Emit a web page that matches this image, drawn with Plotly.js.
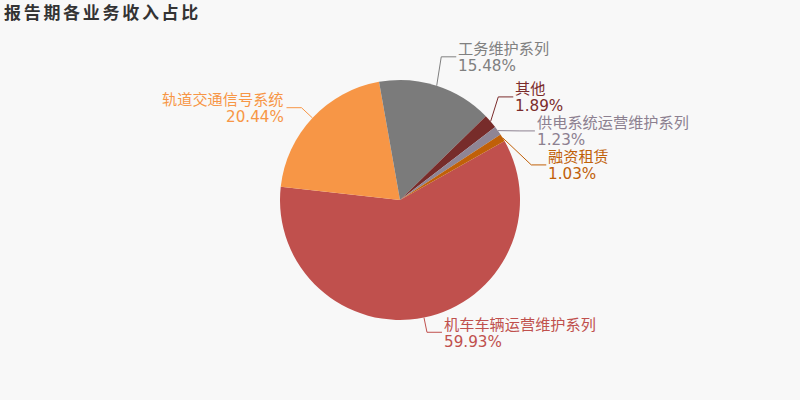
<!DOCTYPE html>
<html><head><meta charset="utf-8">
<script src="https://cdn.plot.ly/plotly-3.0.1.min.js"></script>
<style>
html,body{margin:0;padding:0;background:#f8f8f8;}
#chart{width:800px;height:400px;}
.gtitle{letter-spacing:2.7px;}
</style></head><body><div id="chart"></div>
<script>
// ---- data ----
const categories = ['机车车辆运营维护系列', '轨道交通信号系统', '工务维护系列', '其他', '供电系统运营维护系列', '融资租赁'];
const shares = [59.93, 20.44, 15.48, 1.89, 1.23, 1.03];
const titleText = '报告期各业务收入占比';

// ---- styles ----
const sliceColors = ['#c0504d', '#f79646', '#7b7b7b', '#772c2a', '#8f8595', '#c06008'];
const labelColors = ['#c0504d', '#f79646', '#808080', '#7b2c2c', '#8c8090', '#c06008'];
const FONT = 'DejaVu Sans, Noto Sans CJK SC, sans-serif';
const W = 800, H = 400, CX = 400, CY = 200, R = 120;
const ROT = 60.6, LEN1 = 15, LEN2 = 15, LABEL_H = 34, FS = 15.2;

const total = shares.reduce((a, b) => a + b, 0);
let acc = 0;
const items = shares.map((v, i) => {
  const a0 = ROT + acc / total * 360; acc += v;
  const a1 = ROT + acc / total * 360;
  const m = (a0 + a1) / 2 * Math.PI / 180;
  const s = Math.sin(m), c = Math.cos(m);
  return {
    i, dir: s >= 0 ? 1 : -1,
    ex: CX + R * s, ey: CY - R * c,
    bx: CX + (R + LEN1) * s, y: CY - (R + LEN1) * c, y0: CY - (R + LEN1) * c,
    semiTop: c > 0
  };
});

// label overlap avoidance per side
[1, -1].forEach(dir => {
  const list = items.filter(it => it.dir === dir).sort((a, b) => a.y - b.y);
  if (list.length < 2) return;
  let last = -Infinity, adjusted = false;
  list.forEach(it => {
    const top = it.y - LABEL_H / 2;
    if (top < last) { it.y += last - top; adjusted = true; }
    last = it.y + LABEL_H / 2;
  });
  if (!adjusted) return;
  // balance the shift over the side, never moving a label toward the pie
  const shift = list.reduce((a, it) => a + (it.y - it.y0), 0) / list.length;
  list.forEach(it => {
    it.y -= shift;
    if (!it.semiTop && it.y < it.y0) it.y = it.y0;
  });
  [true, false].forEach(semi => {
    const g = list.filter(it => it.semiTop === semi);
    if (!g.length) return;
    let far = g[0];
    g.forEach(it => { if (Math.abs(it.y - CY) >= Math.abs(far.y - CY)) far = it; });
    const rA = R + LEN1;
    const fdx = far.bx - CX, fdy = Math.abs(far.y - CY);
    const rB = Math.abs(fdx) < rA ? Math.sqrt(fdy * fdy / (1 - fdx * fdx / (rA * rA))) : rA;
    g.forEach(it => {
      const dy = Math.abs(it.y - CY);
      const dx = Math.sqrt(Math.max(0, 1 - dy * dy / (rB * rB))) * rA;
      it.bx = CX + dx * dir;
    });
  });
});

const px = x => x / W, py = y => 1 - y / H;
const shapes = [], annotations = [];
items.forEach(it => {
  const endX = it.bx + it.dir * LEN2;
  shapes.push({
    type: 'path', xref: 'paper', yref: 'paper',
    path: `M${px(it.ex)},${py(it.ey)} L${px(it.bx)},${py(it.y)} L${px(endX)},${py(it.y)}`,
    line: { color: labelColors[it.i], width: 1 }
  });
  const tx = endX + it.dir * 1;
  const base = {
    xref: 'paper', yref: 'paper', x: px(tx), showarrow: false,
    xanchor: it.dir > 0 ? 'left' : 'right', yanchor: 'middle',
    align: it.dir > 0 ? 'left' : 'right', borderpad: 0,
    font: { family: FONT, size: FS, color: labelColors[it.i] }
  };
  annotations.push(Object.assign({}, base, { y: py(it.y - 7.5), text: categories[it.i] }));
  annotations.push(Object.assign({}, base, { y: py(it.y + 9.5), text: shares[it.i].toFixed(2) + '%' }));
});

const trace = {
  type: 'pie', labels: categories, values: shares, sort: false,
  direction: 'clockwise', rotation: ROT, textinfo: 'none', hoverinfo: 'none',
  marker: { colors: sliceColors, line: { width: 0 } },
  domain: { x: [0, 1], y: [0.2, 0.8] }, showlegend: false
};

const layout = {
  width: W, height: H, margin: { l: 0, r: 0, t: 0, b: 0 },
  paper_bgcolor: '#f8f8f8', plot_bgcolor: '#f8f8f8',
  title: {
    text: titleText, x: 0, xref: 'paper', xanchor: 'left',
    y: 1 - 13 / H, yref: 'paper', yanchor: 'middle', pad: { l: 4 },
    font: { family: FONT, size: 17, color: '#333333', weight: 'bold' }
  },
  shapes, annotations
};
Plotly.newPlot('chart', [trace], layout, { displayModeBar: false, staticPlot: true });
</script></body></html>
